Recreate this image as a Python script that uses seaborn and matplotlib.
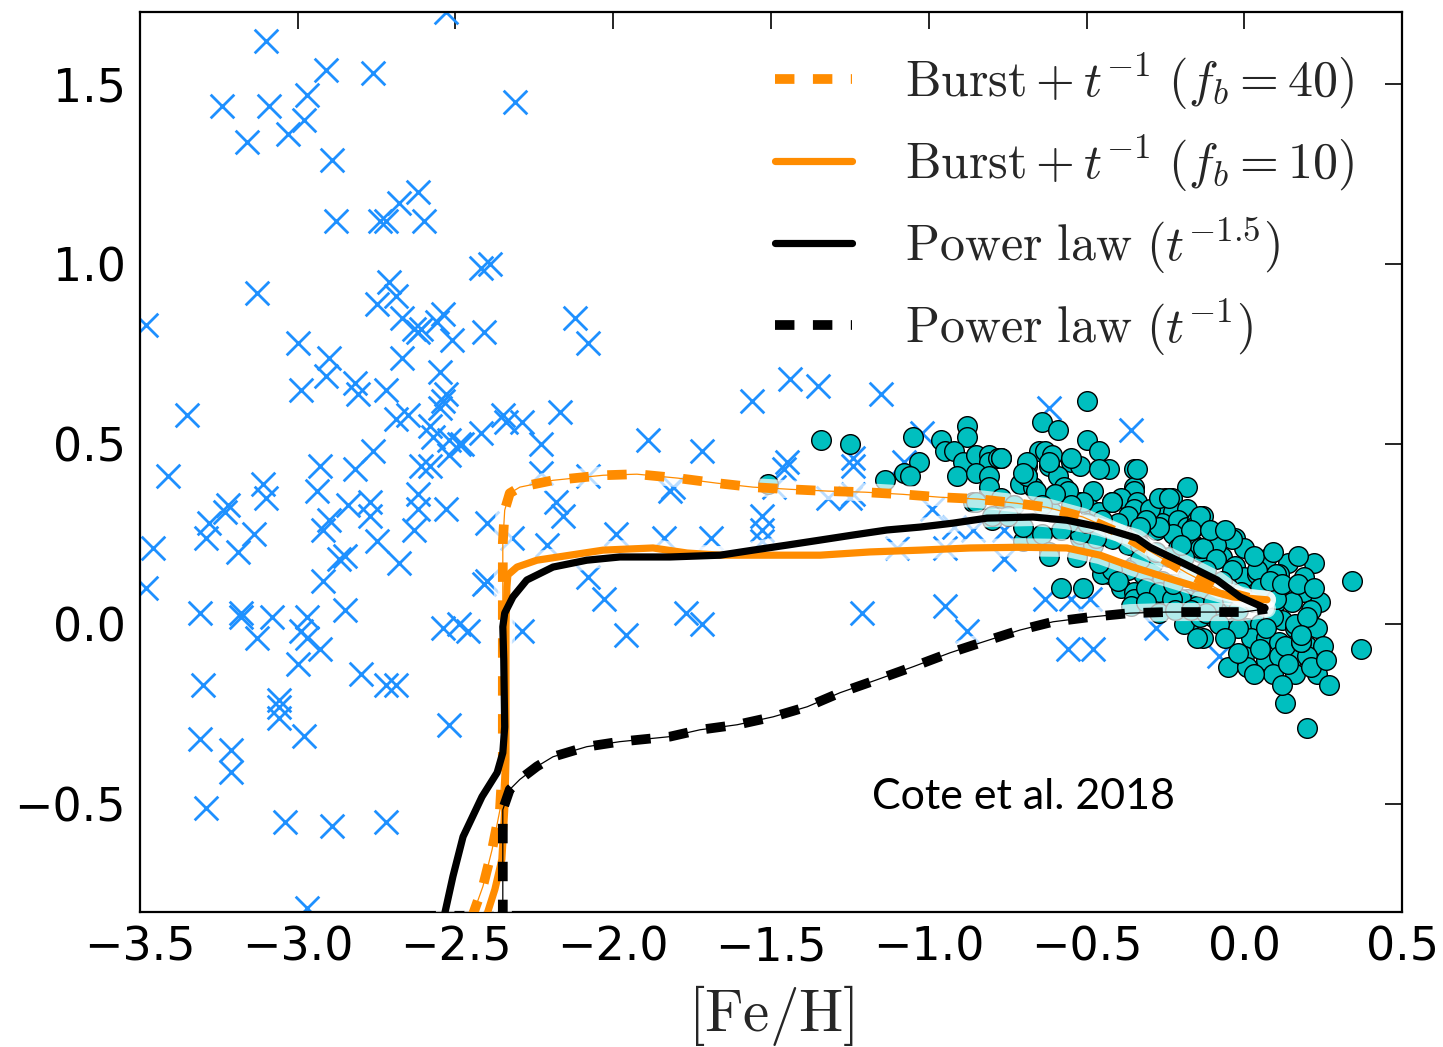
import numpy as np
import pandas as pd
import matplotlib
matplotlib.use("Agg")
import matplotlib.pyplot as plt
import seaborn as sns

sns.set_theme(style="white")
plt.rcParams['font.family'] = ['DejaVu Sans']
plt.rcParams['mathtext.fontset'] = 'cm'

# ---------------- data ----------------
# halo / dwarf stars (blue crosses)
cross_feh = [-3.10, -2.91, -2.76, -3.24, -3.09, -2.97, -2.98, -3.03, -3.16, -2.31,
             -2.89, -2.88, -2.74, -2.72, -2.68, -2.62, -2.60, -2.42, -2.39, -3.13,
             -2.71, -2.69, -2.75, -2.67, -2.62, -2.61, -2.63, -2.54, -2.56, -2.51,
             -2.41, -2.12, -2.08, -3.00, -2.90, -2.91, -2.82, -2.81, -2.99, -2.72,
             -2.67, -2.55, -2.53, -2.54, -2.55, -3.35, -2.69, -2.65, -2.58, -2.57,
             -2.52, -2.49, -2.48, -2.42, -2.35, -2.34, -2.29, -2.23, -2.17, -2.76,
             -2.53, -3.48, -3.41, -3.46, -3.48, -3.11, -3.10, -3.22, -3.23, -3.28,
             -3.29, -3.14, -3.19, -2.93, -2.82, -2.94, -2.84, -2.77, -2.77, -2.90,
             -2.92, -2.75, -2.68, -2.87, -2.85, -2.92, -2.62, -2.62, -2.63, -2.53,
             -2.61, -2.58, -2.52, -2.40, -2.32, -2.40, -2.41, -2.23, -2.18, -2.16,
             -2.21, -2.08, -2.08, -2.03, -1.99, -3.31, -3.18, -3.18, -3.08, -3.13,
             -2.97, -2.99, -2.97, -2.93, -3.00, -2.85, -2.54, -2.49, -2.46, -2.29,
             -1.96, -3.30, -3.06, -3.06, -3.06, -2.80, -2.72, -2.69, -2.98, -3.31,
             -3.21, -3.21, -2.52, -3.29, -3.04, -2.89, -2.72, -2.97, -1.44, -1.35,
             -1.56, -1.15, -1.89, -1.72, -1.45, -1.46, -1.24, -1.24, -1.82, -1.81,
             -1.53, -1.53, -1.53, -1.84, -1.69, -1.49, -1.32, -1.25, -1.24, -1.10,
             -0.95, -1.02, -1.08, -0.76, -1.77, -1.72, -1.21, -0.95, -0.88, -0.99,
             -0.92, -0.86, -0.62, -0.36, -0.63, -0.55, -0.49, -0.56, -0.48, -0.28,
             -0.08, -0.76]
cross_ratio = [1.62, 1.54, 1.53, 1.44, 1.44, 1.47, 1.40, 1.36, 1.34, 1.45,
               1.29, 1.12, 1.12, 1.12, 1.17, 1.20, 1.12, 0.99, 1.00, 0.92,
               0.95, 0.91, 0.89, 0.85, 0.81, 0.82, 0.82, 0.86, 0.84, 0.79,
               0.81, 0.85, 0.78, 0.78, 0.74, 0.69, 0.67, 0.64, 0.65, 0.65,
               0.74, 0.70, 0.64, 0.62, 0.60, 0.58, 0.57, 0.58, 0.55, 0.52,
               0.51, 0.50, 0.50, 0.53, 0.58, 0.56, 0.56, 0.50, 0.59, 0.48,
               1.70, 0.83, 0.41, 0.21, 0.10, 0.39, 0.35, 0.33, 0.31, 0.28,
               0.24, 0.25, 0.20, 0.44, 0.43, 0.37, 0.33, 0.34, 0.30, 0.29,
               0.26, 0.23, 0.17, 0.18, 0.19, 0.12, 0.36, 0.32, 0.26, 0.32,
               0.44, 0.44, 0.47, 0.28, 0.24, 0.12, 0.11, 0.42, 0.34, 0.30,
               0.22, 0.41, 0.13, 0.07, 0.25, 0.03, 0.03, 0.02, 0.02, -0.04,
               0.02, -0.02, -0.04, -0.07, -0.11, 0.04, -0.01, 0.00, -0.02, -0.02,
               -0.03, -0.17, -0.21, -0.23, -0.26, -0.14, -0.17, -0.17, -0.31, -0.32,
               -0.35, -0.41, -0.28, -0.51, -0.55, -0.56, -0.55, -0.79, 0.68, 0.66,
               0.62, 0.64, 0.51, 0.48, 0.45, 0.43, 0.46, 0.44, 0.37, 0.38,
               0.30, 0.26, 0.23, 0.24, 0.24, 0.38, 0.35, 0.35, 0.36, 0.21,
               0.21, 0.53, 0.45, 0.18, 0.03, 0.00, 0.03, 0.05, -0.02, 0.32,
               0.27, 0.26, 0.60, 0.54, 0.07, 0.07, 0.07, -0.07, -0.07, -0.01,
               -0.09, 0.26]

# disk stars (teal circles)
disk_feh = [-1.51, -1.34, -1.25, -1.05, -1.03, -1.08, -1.06, -1.14, -0.88, -0.88,
            -0.96, -0.95, -0.92, -0.89, -0.91, -0.85, -0.81, -0.81, -0.85, -0.81,
            -0.78, -0.81, -0.86, -0.80, -0.77, -0.69, -0.69, -0.71, -0.81, -0.67,
            -0.65, -0.85, -0.80, -0.77, -0.70, -0.66,
            -0.50, -0.64, -0.59, -0.50, -0.46, -0.63, -0.61, -0.77, -0.69, -0.55,
            -0.52, -0.62, -0.43, -0.35, -0.69, -0.59, -0.18, -0.35, -0.57, -0.48,
            -0.66, -0.35, -0.25, -0.23, -0.39, -0.52, -0.42, -0.34, -0.35, -0.28,
            -0.225, -0.18, -0.49, -0.46, -0.37, -0.31, -0.26, -0.21, -0.18, -0.15,
            -0.70, -0.64, -0.52, -0.48, -0.43, -0.28, -0.225, -0.34, -0.37, -0.16,
            -0.21, -0.15, -0.62,
            -0.13, -0.16, -0.09, -0.03, 0.00, -0.14, -0.07, 0.07, 0.14, 0.22,
            -0.03, 0.00, 0.04, 0.11, 0.19, 0.06, 0.14, 0.19, 0.34, -0.18,
            -0.14, -0.08, 0.10, 0.15, 0.24, 0.21, -0.17, -0.10, -0.04, 0.01,
            0.05, 0.12, 0.09, 0.16, 0.23, -0.13, 0.02, 0.07, 0.11, 0.15,
            0.20, 0.25, 0.37, 0.00, 0.07, 0.11, 0.16, 0.20, -0.05, 0.09,
            0.16, 0.23, 0.27, 0.13, 0.20, 0.01, 0.13, 0.18,
            -0.43, -0.58, -0.51, -0.39, -0.35, -0.35, -0.29, -0.26, -0.29, -0.26,
            -0.20, -0.19, -0.15, -0.15, -0.62, -0.35, -0.32,
            -0.45, -0.31, -0.27, -0.23, -0.14, -0.10, -0.04, -0.04, -0.09, -0.14,
            0.10, 0.04, 0.10, -0.02, 0.07, 0.16, -0.02, 0.18, -0.46, -0.34,
            -0.42, -0.51, -0.56, -0.70, -0.62, -0.55, -0.30, -0.27, -0.24, -0.14,
            -0.17, -0.27, -0.31, -0.33, -0.42, -0.47, -0.52, -0.56, -0.61, -0.13,
            -0.09, -0.04, -0.19, -0.24, -0.29, -0.33, -0.37, -0.42, -0.46, -0.53,
            -0.10, -0.15, -0.18, -0.225, -0.05,
            -0.40, -0.36, -0.31, -0.27, -0.22, -0.17, -0.12, -0.08, -0.06, -0.02,
            0.03, 0.05, 0.08, 0.12, 0.17, 0.20, 0.18, 0.14, 0.05, 0.03,
            0.12, 0.21, 0.26, 0.22, -0.12, -0.07, -0.01, 0.03, 0.09, 0.17,
            -0.11, -0.06, -0.20, -0.28, -0.33, -0.40, -0.45, -0.55, -0.60, -0.73,
            -0.75, -0.64, -0.58, -0.50]
disk_ratio = [0.39, 0.51, 0.50, 0.52, 0.45, 0.42, 0.41, 0.40, 0.55, 0.52,
              0.51, 0.48, 0.48, 0.45, 0.41, 0.47, 0.47, 0.45, 0.42, 0.41,
              0.46, 0.37, 0.34, 0.29, 0.46, 0.44, 0.41, 0.39, 0.38, 0.38,
              0.48, 0.34, 0.30, 0.35, 0.23, 0.24,
              0.62, 0.56, 0.54, 0.51, 0.48, 0.48, 0.47, 0.46, 0.45, 0.45,
              0.44, 0.44, 0.43, 0.43, 0.41, 0.41, 0.38, 0.38, 0.38, 0.37,
              0.37, 0.37, 0.35, 0.35, 0.35, 0.34, 0.34, 0.34, 0.32, 0.31,
              0.31, 0.32, 0.32, 0.31, 0.30, 0.29, 0.28, 0.29, 0.27, 0.29,
              0.27, 0.25, 0.24, 0.22, 0.26, 0.26, 0.25, 0.25, 0.22, 0.22,
              0.21, 0.21, 0.20,
              0.30, 0.27, 0.22, 0.24, 0.21, 0.20, 0.185, 0.18, 0.17, 0.17,
              0.16, 0.13, 0.14, 0.14, 0.13, 0.11, 0.09, 0.09, 0.12, 0.07,
              0.07, 0.07, 0.06, 0.06, 0.06, 0.04, 0.01, 0.02, -0.01, -0.01,
              0.00, 0.01, 0.02, -0.01, -0.01, -0.04, -0.04, -0.04, -0.05, -0.06,
              -0.06, -0.06, -0.07, -0.09, -0.10, -0.09, -0.09, -0.09, -0.12, -0.14,
              -0.14, -0.14, -0.17, -0.22, -0.29, -0.12, -0.06, -0.05,
              0.14, 0.10, 0.10, 0.10, 0.09, 0.07, 0.11, 0.12, 0.05, 0.08,
              0.07, 0.00, 0.05, -0.04, 0.19, 0.16, 0.14,
              0.14, 0.10, 0.09, 0.07, 0.02, 0.06, 0.07, 0.235, 0.22, 0.21,
              0.14, 0.15, 0.07, -0.01, -0.01, 0.00, -0.08, -0.05, 0.43, 0.43,
              0.34, 0.34, 0.37, 0.42, 0.45, 0.46, 0.32, 0.35, 0.35, 0.30,
              0.26, 0.27, 0.29, 0.22, 0.235, 0.24, 0.25, 0.28, 0.31, 0.21,
              0.18, 0.15, 0.185, 0.185, 0.17, 0.18, 0.15, 0.15, 0.17, 0.185,
              0.11, 0.12, 0.13, 0.11, 0.10,
              0.12, 0.05, 0.06, 0.03, 0.04, 0.04, 0.03, 0.00, -0.04, 0.04,
              0.06, 0.10, 0.12, 0.11, 0.11, 0.02, -0.03, -0.11, -0.07, -0.14,
              -0.17, -0.12, -0.10, 0.10, 0.15, 0.12, 0.09, 0.19, 0.20, 0.19,
              0.26, 0.26, 0.22, 0.20, 0.27, 0.28, 0.29, 0.33, 0.36, 0.33,
              0.30, 0.33, 0.26, 0.28]

# model tracks
fb40_feh = [-2.450, -2.413, -2.384, -2.359, -2.350, -2.350, -2.350, -2.350, -2.344, -2.328,
            -2.296, -2.191, -2.032, -1.925, -1.795, -1.671, -1.557, -1.440, -1.319, -1.202,
            -1.082, -0.964, -0.844, -0.720, -0.625, -0.511, -0.394, -0.289, -0.181, -0.077,
            0.018, 0.072]
fb40_ratio = [-0.82, -0.729, -0.627, -0.516, -0.377, -0.100, 0.086, 0.225, 0.316, 0.363,
              0.380, 0.399, 0.413, 0.416, 0.405, 0.391, 0.380, 0.374, 0.369, 0.366,
              0.360, 0.352, 0.347, 0.335, 0.324, 0.297, 0.252, 0.197, 0.141, 0.094,
              0.072, 0.067]

fb10_feh = [-2.405, -2.375, -2.353, -2.344, -2.340, -2.340, -2.340, -2.337, -2.334, -2.305,
            -2.242, -2.137, -2.032, -1.874, -1.766, -1.661, -1.503, -1.344, -1.186, -1.028,
            -0.869, -0.711, -0.562, -0.457, -0.353, -0.245, -0.140, -0.036, 0.072]
fb10_ratio = [-0.82, -0.737, -0.654, -0.516, -0.377, -0.191, -0.008, 0.103, 0.136, 0.158,
              0.177, 0.191, 0.205, 0.211, 0.197, 0.191, 0.191, 0.191, 0.200, 0.205,
              0.211, 0.213, 0.211, 0.191, 0.158, 0.128, 0.100, 0.075, 0.067]

pl15_feh = [-2.538, -2.508, -2.476, -2.416, -2.368, -2.350, -2.344, -2.347, -2.350, -2.344,
            -2.318, -2.274, -2.191, -2.084, -1.979, -1.820, -1.661, -1.557, -1.449, -1.344,
            -1.240, -1.132, -1.028, -0.923, -0.815, -0.669, -0.562, -0.457, -0.340, -0.299,
            -0.194, -0.086, -0.013, 0.066]
pl15_ratio = [-0.82, -0.701, -0.591, -0.480, -0.413, -0.358, -0.286, -0.100, -0.008, 0.030,
              0.075, 0.122, 0.158, 0.177, 0.186, 0.186, 0.191, 0.205, 0.219, 0.233,
              0.247, 0.261, 0.269, 0.280, 0.294, 0.297, 0.288, 0.269, 0.238, 0.213,
              0.169, 0.122, 0.075, 0.044]

pl1_feh = [-2.350, -2.350, -2.328, -2.296, -2.242, -2.191, -2.084, -1.979, -1.820, -1.725,
           -1.607, -1.493, -1.385, -1.281, -1.164, -1.050, -0.932, -0.828, -0.711, -0.606,
           -0.489, -0.362, -0.245, -0.118, -0.004, 0.072]
pl1_ratio = [-0.82, -0.516, -0.460, -0.432, -0.396, -0.369, -0.341, -0.327, -0.313, -0.294,
             -0.280, -0.258, -0.230, -0.191, -0.155, -0.119, -0.080, -0.050, -0.017, 0.006,
             0.019, 0.030, 0.033, 0.033, 0.033, 0.042]

labels = [r'$\mathrm{Burst} + t^{-1}\ (f_b = 40)$',
          r'$\mathrm{Burst} + t^{-1}\ (f_b = 10)$',
          r'$\mathrm{Power\ law}\ (t^{-1.5})$',
          r'$\mathrm{Power\ law}\ (t^{-1})$']
xticks = [-3.5, -3.0, -2.5, -2.0, -1.5, -1.0, -0.5, 0.0, 0.5]
yticks = [-0.5, 0.0, 0.5, 1.0, 1.5]

# ---------------- figure ----------------
fig = plt.figure(figsize=(14.43, 10.47), dpi=100)
ax = fig.add_axes([0.097, 0.129, 0.8746, 0.8596])
ax.set_facecolor('white')

sns.scatterplot(x=cross_feh, y=cross_ratio, marker='x', color='#1E90FF', s=290,
                linewidth=2.0, ax=ax, zorder=2, legend=False)
sns.scatterplot(x=disk_feh, y=disk_ratio, marker='o', color='#00BFBF', s=200,
                edgecolor='black', linewidth=1.0, ax=ax, zorder=3, legend=False)

tracks = [(fb40_feh, fb40_ratio, '#FF8C00', (0, (2.0, 1.9)), 7.0),
          (fb10_feh, fb10_ratio, '#FF8C00', '-', 5.2),
          (pl15_feh, pl15_ratio, 'black', '-', 5.2),
          (pl1_feh, pl1_ratio, 'black', (0, (2.0, 1.9)), 7.0)]

# white translucent halo under the tracks
for fx, fy, c, ls, lw in tracks:
    sns.lineplot(x=fx, y=fy, sort=False, estimator=None, color='white', alpha=0.7,
                 lw=13, solid_capstyle='round', solid_joinstyle='round', ax=ax, zorder=4)

handles = []
for fx, fy, c, ls, lw in tracks:
    sns.lineplot(x=fx, y=fy, sort=False, estimator=None, color=c, lw=lw, linestyle=ls,
                 ax=ax, zorder=5)
    handles.append(ax.lines[-1])
    sns.lineplot(x=fx, y=fy, sort=False, estimator=None, color=c, lw=0.9,
                 ax=ax, zorder=5)

ax.set_xlim(-3.5, 0.5)
ax.set_ylim(-0.8, 1.7)
ax.set_xticks(xticks)
ax.set_yticks(yticks)
ax.tick_params(direction='in', length=12, width=1.2, top=True, right=True,
               labelsize=33, pad=10, colors='black')
for sp in ax.spines.values():
    sp.set_color('black')
    sp.set_linewidth(1.6)
ax.grid(False)

ax.set_xlabel(r'$[\mathrm{Fe/H}]$', fontsize=42.5, labelpad=9)
ax.set_ylabel('')

ax.text(-1.18, -0.48, 'Cote et al. 2018', fontsize=31, family=['Lato', 'DejaVu Sans'],
        va='center', ha='left', color='black')

leg = ax.legend(handles, labels, loc='upper left', bbox_to_anchor=(0.503, 0.956),
                frameon=False, fontsize=36, handlelength=1.54, handletextpad=1.06,
                labelspacing=0.43, borderpad=0, borderaxespad=0)

fig.savefig('out.png', dpi=100, facecolor='white')
